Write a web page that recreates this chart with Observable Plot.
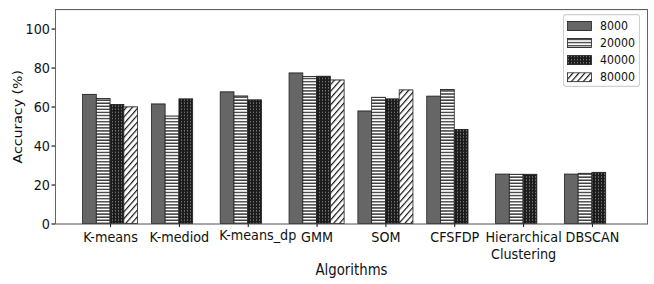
<!DOCTYPE html>
<html><head><meta charset="utf-8">
<script src="https://cdn.jsdelivr.net/npm/d3@7"></script>
<script src="https://cdn.jsdelivr.net/npm/@observablehq/plot@0.6"></script>
<style>
body{margin:0;background:#fff;font-family:"DejaVu Sans",sans-serif;}
#wrap{position:relative;width:654px;height:284px;}
#wrap > svg{display:block;}
#legend{position:absolute;left:563px;top:14px;width:77px;height:64px;border:1px solid #d0d0d0;border-radius:3px;background:#fff;box-sizing:border-box;padding:2px 0 0 3px;transform:scaleY(1.14);transform-origin:0 0;}
.row{display:flex;align-items:center;height:14.9px;font-size:11px;color:#111;white-space:nowrap;}
.row svg{flex:none;margin-right:8px;}
</style></head><body><div id="wrap"><div id="legend"></div></div>
<script>
const algorithms = ["K-means","K-mediod","K-means_dp","GMM","SOM","CFSFDP","Hierarchical\nClustering","DBSCAN"];
const sizes = ["8000","20000","40000","80000"];
const acc8000  = [66.2, 61.3, 67.5, 77.2, 57.7, 65.3, 25.3, 25.3];
const acc20000 = [64.1, 55.1, 65.4, 75.4, 64.7, 68.7, 25.2, 25.7];
const acc40000 = [61.0, 63.9, 63.4, 75.5, 63.9, 48.2, 25.2, 26.2];
const acc80000 = [59.8, null, null, 73.6, 68.5, null, null, null];
const yTicks = [0, 20, 40, 60, 80, 100];

const series = [acc8000, acc20000, acc40000, acc80000];
const fills = ["#666666", "url(#pat-h)", "url(#pat-dots)", "url(#pat-diag)"];
const W = 0.2;
const rows = [];
series.forEach((vals, k) => vals.forEach((v, i) => {
  if (v != null) rows.push({alg: i, size: sizes[k], k, x1: i - 0.4 + W * k, x2: i - 0.4 + W * (k + 1), y: v});
}));

const shifted = 2; // the K-means_dp label sits a little right of its tick in the reference
const allTicks = d3.range(algorithms.length);

// The figure is drawn at 654x249 and stretched vertically to 654x284 (as in the reference image)
const H0 = 249;
const plot = Plot.plot({
  width: 654, height: H0,
  marginLeft: 55, marginRight: 7, marginTop: 7.9, marginBottom: 53.1,
  style: {fontFamily: "DejaVu Sans", fontSize: "12.8px", color: "#111", background: "#fff"},
  x: {domain: [-0.8, 7.8], axis: null},
  y: {domain: [0, 110], axis: null},
  marks: [
    ...sizes.map((s, k) => Plot.rectY(rows.filter(d => d.k === k), {x1: "x1", x2: "x2", y1: 0, y2: "y", fill: fills[k], stroke: "#222", strokeWidth: 0.8})),
    Plot.frame({stroke: "#555", strokeWidth: 0.9}),
    Plot.axisX({ticks: allTicks, tickFormat: i => i === shifted ? "" : algorithms[i], tickSize: 3.1, tickPadding: 2, fontSize: 12.8, lineHeight: 1.15, label: null}),
    Plot.axisX({ticks: [shifted], tickFormat: i => algorithms[i], tickSize: 0, tickPadding: 5.1, dx: 9.5, fontSize: 12.8, label: null}),
    Plot.axisX({ticks: [], label: "Algorithms", labelAnchor: "center", labelOffset: 44.5, labelArrow: "none", fontSize: 13.3}),
    Plot.axisY({ticks: yTicks, tickSize: 3.5, tickPadding: 2, fontSize: 12.8, label: null}),
    Plot.axisY({ticks: [], label: "Accuracy (%)", labelAnchor: "center", labelOffset: 42, labelArrow: "none", fontSize: 12.4})
  ]
});
plot.setAttribute("viewBox", `0 0 654 ${H0}`);
plot.setAttribute("preserveAspectRatio", "none");
plot.setAttribute("width", 654);
plot.setAttribute("height", 284);
plot.style.height = "284px";
plot.style.width = "654px";

const defs = d3.select(plot).insert("defs", ":first-child");
const ph = defs.append("pattern").attr("id", "pat-h").attr("patternUnits", "userSpaceOnUse").attr("width", 4).attr("height", 2.7);
ph.append("rect").attr("width", 4).attr("height", 2.7).attr("fill", "#fff");
ph.append("rect").attr("y", 0.9).attr("width", 4).attr("height", 1.0).attr("fill", "#111");
const pd = defs.append("pattern").attr("id", "pat-dots").attr("patternUnits", "userSpaceOnUse").attr("width", 3).attr("height", 2.7);
pd.append("rect").attr("width", 3).attr("height", 2.7).attr("fill", "#1c1c1c");
pd.append("rect").attr("x", 1).attr("y", 0.9).attr("width", 0.9).attr("height", 0.8).attr("fill", "#bbb");
const pg = defs.append("pattern").attr("id", "pat-diag").attr("patternUnits", "userSpaceOnUse").attr("width", 4.2).attr("height", 4.2).attr("patternTransform", "rotate(45)");
pg.append("rect").attr("width", 4.2).attr("height", 4.2).attr("fill", "#fff");
pg.append("rect").attr("x", 0).attr("width", 1.1).attr("height", 4.2).attr("fill", "#111");

document.getElementById("wrap").prepend(plot);

const legend = d3.select("#legend");
sizes.forEach((s, k) => {
  const row = legend.append("div").attr("class", "row");
  const sw = row.append("svg").attr("width", 25).attr("height", 9);
  sw.append("rect").attr("x", 0.5).attr("y", 0.5).attr("width", 24).attr("height", 7.9).attr("fill", fills[k]).attr("stroke", "#222").attr("stroke-width", 0.8);
  row.append("span").text(s);
});
</script></body></html>
